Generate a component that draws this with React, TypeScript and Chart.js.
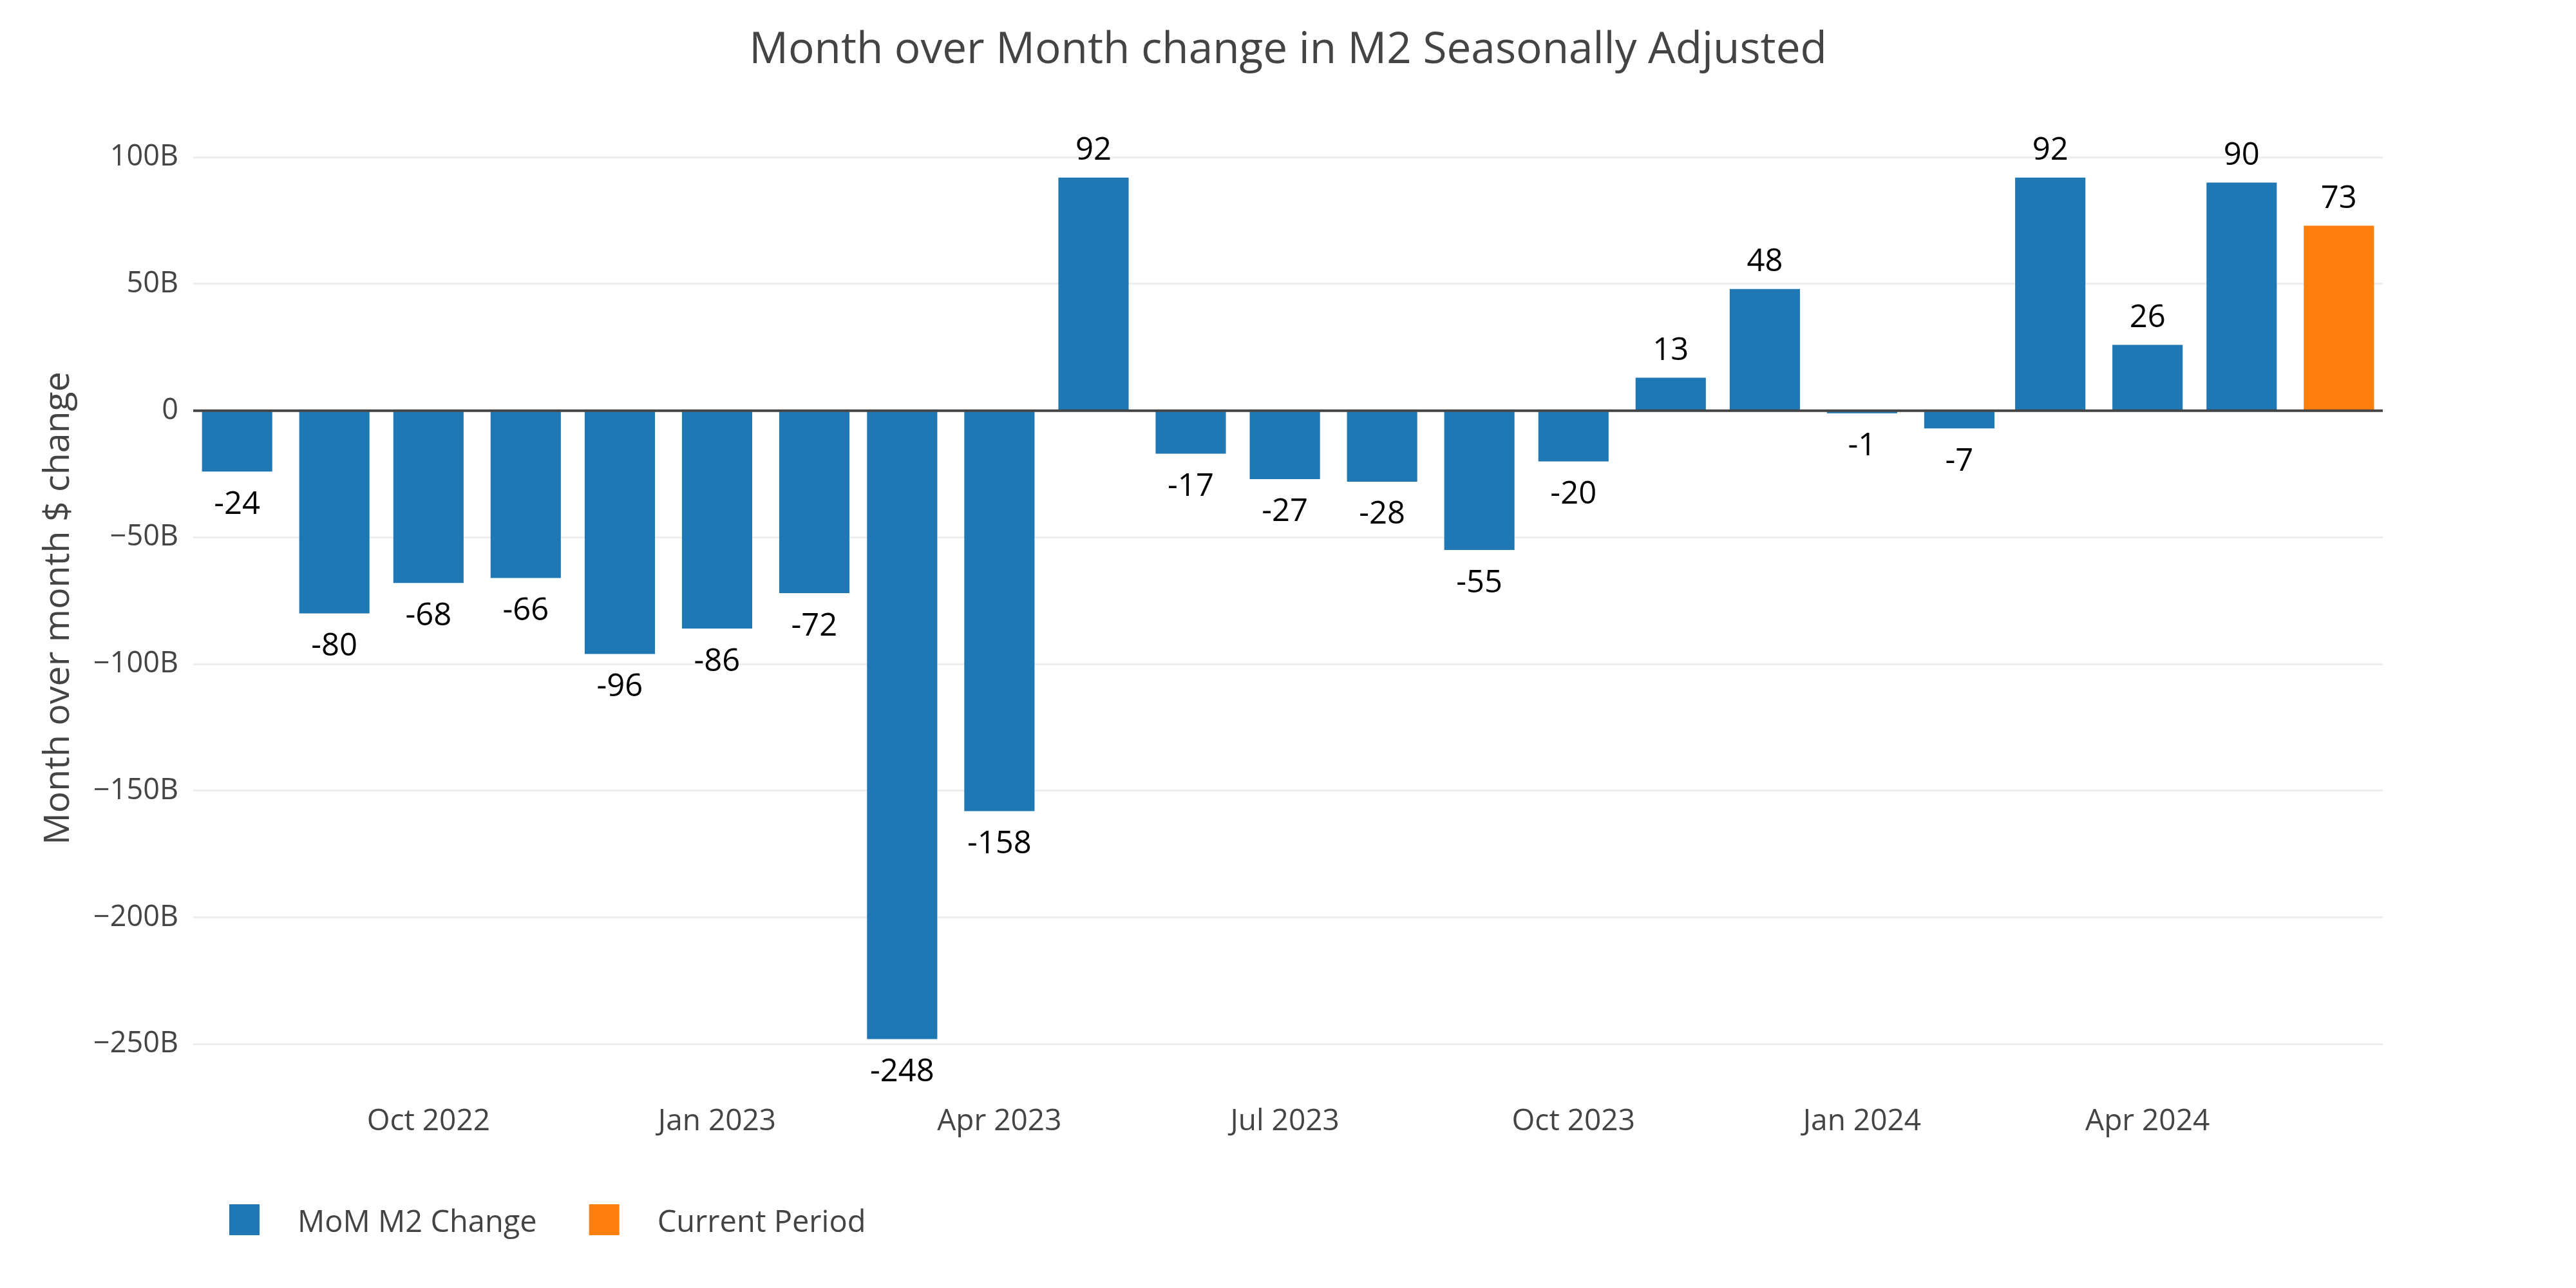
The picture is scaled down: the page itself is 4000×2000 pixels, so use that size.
import React, { useEffect, useRef } from 'react';
import { Chart, registerables } from 'chart.js';

Chart.register(...registerables);

const titleText = 'Month over Month change in M2 Seasonally Adjusted';
const yAxisTitle = 'Month over month $ change';
const seriesNames = ['MoM M2 Change', 'Current Period'];
const seriesColors = ['#1f77b4', '#ff7f0e'];

const momMonths = [
  '2022-08', '2022-09', '2022-10', '2022-11', '2022-12',
  '2023-01', '2023-02', '2023-03', '2023-04', '2023-05', '2023-06',
  '2023-07', '2023-08', '2023-09', '2023-10', '2023-11', '2023-12',
  '2024-01', '2024-02', '2024-03', '2024-04', '2024-05',
];
const momValues = [
  -24, -80, -68, -66, -96,
  -86, -72, -248, -158, 92, -17,
  -27, -28, -55, -20, 13, 48,
  -1, -7, 92, 26, 90,
];
const currentMonths = ['2024-06'];
const currentValues = [73];

const xTickMonths = ['2022-10', '2023-01', '2023-04', '2023-07', '2023-10', '2024-01', '2024-04'];
const xTickLabels = ['Oct 2022', 'Jan 2023', 'Apr 2023', 'Jul 2023', 'Oct 2023', 'Jan 2024', 'Apr 2024'];
const yTickValues = [-250, -200, -150, -100, -50, 0, 50, 100];
const yTickLabels = ['\u2212250B', '\u2212200B', '\u2212150B', '\u2212100B', '\u221250B', '0', '50B', '100B'];

const FONT = "'Open Sans', sans-serif";
const W = 4000;
const H = 2000;

const toDay = (m: string) => {
  const [y, mo] = m.split('-').map(Number);
  return Date.UTC(y, mo - 1, 1) / 86400000;
};

const zeroLinePlugin = {
  id: 'zeroLine',
  afterDatasetsDraw(chart: any) {
    const ctx = chart.ctx;
    const y = chart.scales.y.getPixelForValue(0);
    const { left, right } = chart.chartArea;
    ctx.save();
    ctx.strokeStyle = '#444444';
    ctx.lineWidth = 4;
    ctx.beginPath();
    ctx.moveTo(left, y);
    ctx.lineTo(right, y);
    ctx.stroke();
    ctx.restore();
  },
};

const barLabelPlugin = {
  id: 'barLabels',
  afterDatasetsDraw(chart: any) {
    const ctx = chart.ctx;
    ctx.save();
    ctx.font = `49px ${FONT}`;
    ctx.fillStyle = '#000000';
    ctx.textAlign = 'center';
    ctx.textBaseline = 'alphabetic';
    chart.data.datasets.forEach((ds: any, di: number) => {
      const meta = chart.getDatasetMeta(di);
      meta.data.forEach((el: any, i: number) => {
        const v = ds.data[i].y;
        const txt = String(Math.round(v));
        const y = v >= 0 ? el.y - 27.5 : el.y + 65.5;
        ctx.fillText(txt, el.x, y);
      });
    });
    ctx.restore();
  },
};

const legendPlugin = {
  id: 'bottomLegend',
  afterDraw(chart: any) {
    const ctx = chart.ctx;
    ctx.save();
    ctx.font = `47px ${FONT}`;
    ctx.textBaseline = 'alphabetic';
    ctx.textAlign = 'left';
    let x = chart.chartArea.left + 56;
    const boxTop = chart.height - 130;
    chart.data.datasets.forEach((ds: any) => {
      ctx.fillStyle = ds.backgroundColor;
      ctx.fillRect(x, boxTop, 47, 48);
      ctx.fillStyle = '#444444';
      const tx = x + 106;
      ctx.fillText(ds.label, tx, boxTop + 43);
      x = tx + ctx.measureText(ds.label).width + 81;
    });
    ctx.restore();
  },
};

export default function App() {
  const canvasRef = useRef<HTMLCanvasElement | null>(null);

  useEffect(() => {
    const canvas = canvasRef.current;
    if (!canvas) return;
    Chart.defaults.font.family = FONT;

    const allMonths = momMonths.concat(currentMonths);
    const xMin = toDay(allMonths[0]) - 14;
    const xMax = toDay(allMonths[allMonths.length - 1]) + 14;
    const xTickDays = xTickMonths.map(toDay);

    const chart = new Chart(canvas, {
      type: 'bar',
      data: {
        datasets: [
          {
            label: seriesNames[0],
            data: momMonths.map((m, i) => ({ x: toDay(m), y: momValues[i] })),
            backgroundColor: seriesColors[0],
            borderWidth: 0,
            grouped: false,
            barPercentage: 0.8,
            categoryPercentage: 1,
          } as any,
          {
            label: seriesNames[1],
            data: currentMonths.map((m, i) => ({ x: toDay(m), y: currentValues[i] })),
            backgroundColor: seriesColors[1],
            borderWidth: 0,
            grouped: false,
            barPercentage: 0.8,
            categoryPercentage: 1,
          } as any,
        ],
      },
      options: {
        animation: false,
        responsive: false,
        devicePixelRatio: 1,
        layout: { padding: { left: 0, right: 0, top: 0, bottom: 0 } },
        plugins: {
          legend: { display: false },
          tooltip: { enabled: false },
          title: {
            display: true,
            text: titleText,
            color: '#444444',
            font: { size: 67.5, weight: 'normal', family: FONT },
            padding: { top: 38, bottom: 85.85 },
          },
        },
        scales: {
          x: {
            type: 'linear',
            min: xMin,
            max: xMax,
            offset: false,
            bounds: 'data',
            grid: { display: false, drawTicks: false, offset: false },
            border: { display: false },
            afterBuildTicks: (scale: any) => {
              scale.ticks = xTickDays.map((v) => ({ value: v }));
            },
            afterFit: (scale: any) => {
              scale.height = 315.6;
            },
            ticks: {
              autoSkip: false,
              maxRotation: 0,
              padding: 30,
              color: '#444444',
              font: { size: 46, family: FONT },
              callback: (value: any) => {
                const idx = xTickDays.indexOf(Number(value));
                return idx >= 0 ? xTickLabels[idx] : '';
              },
            },
          },
          y: {
            type: 'linear',
            position: 'left',
            min: -266,
            max: 110,
            bounds: 'data',
            grid: {
              drawTicks: false,
              lineWidth: 3,
              color: (c: any) => (c.tick && c.tick.value === 0 ? 'rgba(0,0,0,0)' : '#eeeeee'),
            },
            border: { display: false },
            afterBuildTicks: (scale: any) => {
              scale.ticks = yTickValues.map((v) => ({ value: v }));
            },
            afterFit: (scale: any) => {
              scale.width = 300;
            },
            ticks: {
              padding: 23,
              color: '#444444',
              font: { size: 45, family: FONT },
              callback: (value: any) => {
                const idx = yTickValues.indexOf(Number(value));
                return idx >= 0 ? yTickLabels[idx] : '';
              },
            },
            title: {
              display: true,
              text: yAxisTitle,
              color: '#444444',
              font: { size: 55.5, family: FONT },
              padding: { top: 58, bottom: 0 },
            },
          },
          yRightSpace: {
            type: 'linear',
            position: 'right',
            min: 0,
            max: 1,
            grid: { display: false, drawTicks: false },
            border: { display: false },
            ticks: { display: false },
            afterFit: (scale: any) => {
              scale.width = 300;
            },
          },
        },
      } as any,
      plugins: [zeroLinePlugin, barLabelPlugin, legendPlugin],
    });

    return () => {
      chart.destroy();
    };
  }, []);

  return (
    <div style={{ position: 'absolute', left: 0, top: 0, width: W, height: H, background: '#ffffff' }}>
      <canvas ref={canvasRef} width={W} height={H} style={{ width: W, height: H, display: 'block' }} />
    </div>
  );
}
